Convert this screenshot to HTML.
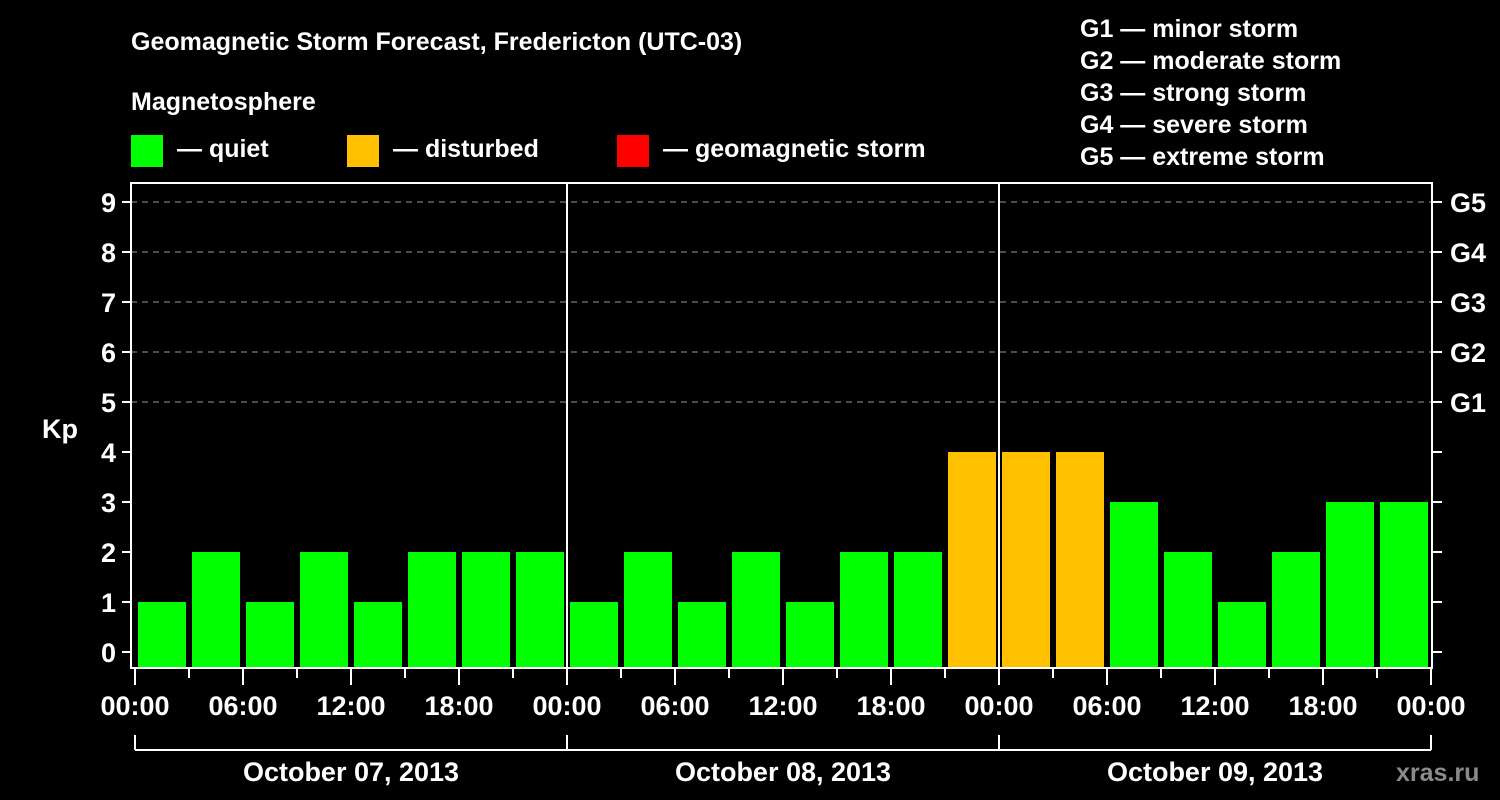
<!DOCTYPE html>
<html><head><meta charset="utf-8"><style>
html,body{margin:0;padding:0;background:#000;width:1500px;height:800px;overflow:hidden}
svg text{font-family:"Liberation Sans",Arial,sans-serif;font-weight:bold;fill:#fff}
</style></head><body>
<svg id="chart" width="1500" height="800" xmlns="http://www.w3.org/2000/svg">
<rect width="1500" height="800" fill="#000"/>
<text x="131" y="50" font-size="25">Geomagnetic Storm Forecast, Fredericton (UTC-03)</text>
<text x="131" y="110" font-size="25">Magnetosphere</text>
<g><rect x="131" y="135" width="32" height="32" fill="#00ff00"/><text x="177" y="157" font-size="25">— quiet</text></g>
<g><rect x="347" y="135" width="32" height="32" fill="#ffc000"/><text x="393" y="157" font-size="25">— disturbed</text></g>
<g><rect x="617" y="135" width="32" height="32" fill="#ff0000"/><text x="663" y="157" font-size="25">— geomagnetic storm</text></g>
<g font-size="25">
<text x="1080" y="37">G1 — minor storm</text>
<text x="1080" y="69">G2 — moderate storm</text>
<text x="1080" y="101">G3 — strong storm</text>
<text x="1080" y="133">G4 — severe storm</text>
<text x="1080" y="165">G5 — extreme storm</text>
</g>
<text x="42" y="438" font-size="27">Kp</text>
<text x="1396" y="781" font-size="25" fill="#888" style="fill:#8a8a8a">xras.ru</text>
<g id="grid"></g><g id="bars"></g><g id="axes"></g>
</svg>
<script>
const kpValues=[1,2,1,2,1,2,2,2, 1,2,1,2,1,2,2,4, 4,4,3,2,1,2,3,3];
const yTicks=[0,1,2,3,4,5,6,7,8,9];
const gLabels=["G1","G2","G3","G4","G5"];
const timeLabels=["00:00","06:00","12:00","18:00","00:00","06:00","12:00","18:00","00:00","06:00","12:00","18:00","00:00"];
const dayLabels=["October 07, 2013","October 08, 2013","October 09, 2013"];
const NS="http://www.w3.org/2000/svg";
const X0=135,HOUR=18,Y0=652,UNIT=50,LEFT=131,RIGHT=1432,TOP=183,BOT=668;
const xs=h=>X0+h*HOUR, ys=v=>Y0-v*UNIT;
function mk(p,t,a){const e=document.createElementNS(NS,t);for(const k in a)e.setAttribute(k,a[k]);document.getElementById(p).appendChild(e);return e;}
function color(v){return v>=5?"#ff0000":v>=4?"#ffc000":"#00ff00";}
yTicks.forEach(v=>{if(v>=5){const l=mk("grid","line",{x1:LEFT,x2:RIGHT,y1:ys(v),y2:ys(v),stroke:"#999","stroke-dasharray":"6,5","stroke-width":1});

}});
kpValues.forEach((v,i)=>{const c=xs(i*3+1.5);const r=mk("bars","rect",{x:c-24,y:ys(v),width:48,height:BOT-ys(v),fill:color(v)});

});
for(let d=1;d<3;d++){const l=mk("axes","line",{x1:xs(d*24),x2:xs(d*24),y1:TOP,y2:BOT,stroke:"#fff","stroke-width":2});

}
const fr=mk("axes","rect",{x:LEFT,y:TOP,width:RIGHT-LEFT,height:BOT-TOP,fill:"none",stroke:"#fff","stroke-width":2});


yTicks.forEach(v=>{mk("axes","line",{x1:122,x2:LEFT,y1:ys(v),y2:ys(v),stroke:"#fff","stroke-width":2});
mk("axes","line",{x1:RIGHT,x2:1442,y1:ys(v),y2:ys(v),stroke:"#fff","stroke-width":2});
const t=mk("axes","text",{x:116,y:ys(v)+10,"font-size":27,"text-anchor":"end"});t.textContent=v;

});
gLabels.forEach((g,i)=>{const t=mk("axes","text",{x:1450,y:ys(5+i)+10,"font-size":27});t.textContent=g;

});
for(let h=0;h<=72;h+=3){const major=h%6==0;mk("axes","line",{x1:xs(h),x2:xs(h),y1:BOT,y2:major?685:678,stroke:"#fff","stroke-width":2});}
timeLabels.forEach((s,i)=>{const t=mk("axes","text",{x:xs(i*6),y:715,"font-size":27,"text-anchor":"middle"});t.textContent=s;

});
mk("axes","line",{x1:xs(0),x2:xs(72),y1:750,y2:750,stroke:"#fff","stroke-width":2});
for(let d=0;d<=3;d++)mk("axes","line",{x1:xs(d*24),x2:xs(d*24),y1:735,y2:750,stroke:"#fff","stroke-width":2});
dayLabels.forEach((s,i)=>{const t=mk("axes","text",{x:xs(i*24+12),y:781,"font-size":27,"text-anchor":"middle"});t.textContent=s;

});
</script>
</body></html>
